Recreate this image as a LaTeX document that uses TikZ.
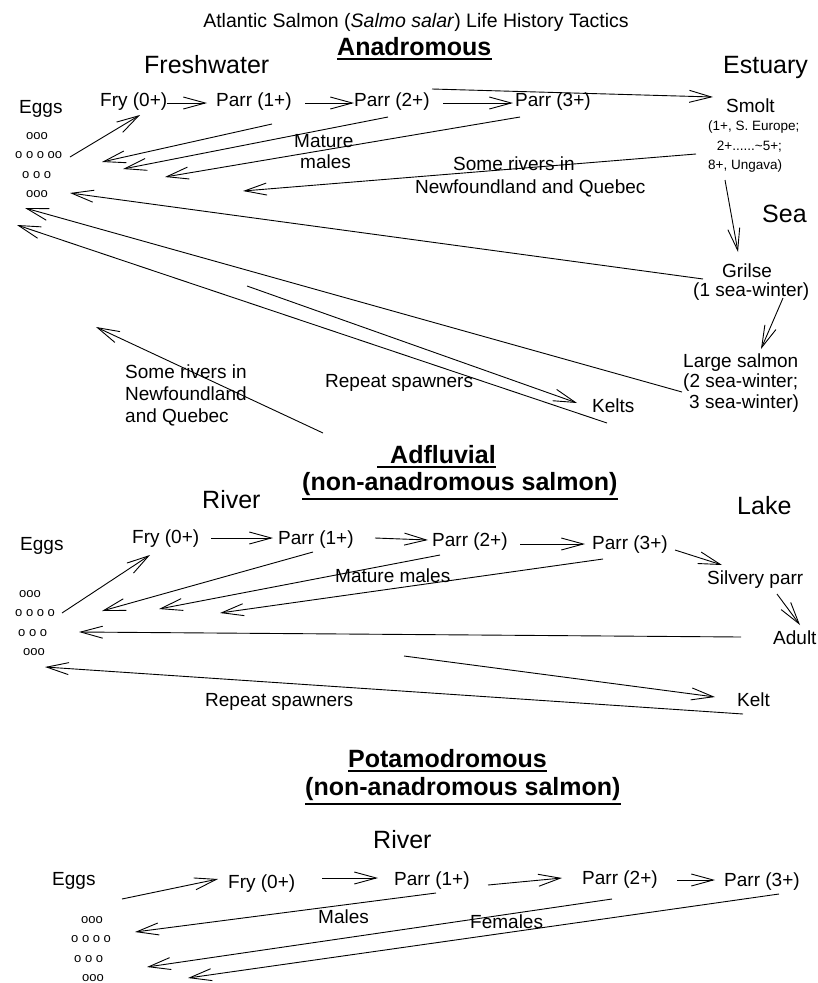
\documentclass[tikz,border=0pt]{standalone}
\usepackage{fontspec}
\setmainfont{Liberation Sans}
\usetikzlibrary{arrows.meta}

\begin{document}
\begin{tikzpicture}[x=1pt,y=-1pt,
  lbl/.style={anchor=base west,inner sep=0,font=\fontsize{19}{22}\selectfont},
  zone/.style={lbl,font=\fontsize{25}{30}\selectfont},
  hdr/.style={lbl,font=\fontsize{25}{30}\selectfont\bfseries},
  detail/.style={lbl,font=\fontsize{13.5}{16}\selectfont},
  eggdot/.style={lbl,font=\fontsize{13}{15}\selectfont},
  arr/.style={-{Straight Barb[length=22pt,width=12pt]},line width=0.9pt},
  ul/.style={line width=2.2pt}]
\useasboundingbox (0,0) rectangle (818,983);
\node[lbl,anchor=base,font=\fontsize{19.5}{23}\selectfont] (title) at (416,27) {Atlantic Salmon (\textit{Salmo salar}) Life History Tactics};

% anadromous
\node[hdr] (aHead) at (337,55) {Anadromous};
\draw[ul] ([yshift=-4pt]aHead.base west) -- ([yshift=-4pt]aHead.base east);
\node[zone] (aFresh) at (144,73) {Freshwater};
\node[zone] (aEst) at (723,73) {Estuary};
\node[zone] (aSea) at (762,222) {Sea};
\node[lbl] (aEggs) at (19,113) {Eggs};
\node[eggdot] (aOa) at (26,139) {ooo};
\node[eggdot] (aOb) at (15,158) {o o o oo};
\node[eggdot] (aOc) at (22,178) {o o o};
\node[eggdot] (aOd) at (26,197) {ooo};
\node[lbl] (aFry) at (100,106) {Fry (0+)};
\node[lbl] (aParrA) at (216,106) {Parr (1+)};
\node[lbl] (aParrB) at (354,106) {Parr (2+)};
\node[lbl] (aParrC) at (515,106) {Parr (3+)};
\node[lbl] (aSmolt) at (726,112) {Smolt};
\node[detail] (aSmA) at (708,130) {(1+, S. Europe;};
\node[detail] (aSmB) at (713,150) {\ 2+......\textasciitilde5+;};
\node[detail] (aSmC) at (708,169) {8+, Ungava)};
\node[lbl] (aMat) at (294,147) {Mature};
\node[lbl] (aMal) at (300,168) {males};
\node[lbl] (aSomeA) at (453,170) {Some rivers in};
\node[lbl] (aSomeB) at (415,193) {Newfoundland and Quebec};
\node[lbl] (aGril) at (722,277) {Grilse};
\node[lbl] (aGrilB) at (693,296) {(1 sea-winter)};
\node[lbl] (aLarge) at (683,367) {Large salmon};
\node[lbl] (aLargeB) at (683,387) {(2 sea-winter;};
\node[lbl] (aLargeC) at (689,408) {3 sea-winter)};
\node[lbl] (aKelts) at (592,412) {Kelts};
\node[lbl] (aRep) at (325,387) {Repeat spawners};
\node[lbl] (aRivA) at (125,378) {Some rivers in};
\node[lbl] (aRivB) at (125,400) {Newfoundland};
\node[lbl] (aRivC) at (125,422) {and Quebec};

\coordinate (aEggOut) at (70,157);   \coordinate (aFryIn) at (140,115);
\coordinate (aFryOut) at (167,103);  \coordinate (aPAIn) at (207,103);
\coordinate (aPAOut) at (305,103);   \coordinate (aPBIn) at (354,103);
\coordinate (aPBOut) at (443,103);   \coordinate (aPCIn) at (513,103);
\coordinate (aSmFrom) at (432,89);   \coordinate (aSmIn) at (713,97);
\coordinate (aPABack) at (272,124);  \coordinate (aPAEgg) at (102,162);
\coordinate (aPBBack) at (388,117);  \coordinate (aPBEgg) at (123,169);
\coordinate (aPCBack) at (520,117);  \coordinate (aPCEgg) at (165,177);
\coordinate (aSmBack) at (696,154);  \coordinate (aSmEgg) at (243,191);
\coordinate (aGrBack) at (703,279);  \coordinate (aGrEgg) at (70,193);
\coordinate (aLgBack) at (682,392);  \coordinate (aLgEgg) at (25,208);
\coordinate (aKeBack) at (607,423);  \coordinate (aKeEgg) at (17,225);
\coordinate (aKeFrom) at (247,286);  \coordinate (aKeIn) at (577,403);
\coordinate (aSmOut) at (725,180);   \coordinate (aGrIn) at (738,252);
\coordinate (aGrOut) at (783,298);   \coordinate (aLgIn) at (761,349);
\coordinate (aRivFrom) at (323,433); \coordinate (aRivTo) at (96,327);

\draw[arr] (aEggOut) -- (aFryIn);
\draw[arr] (aFryOut) -- (aPAIn);
\draw[arr] (aPAOut) -- (aPBIn);
\draw[arr] (aPBOut) -- (aPCIn);
\draw[arr] (aSmFrom) -- (aSmIn);
\draw[arr] (aPABack) -- (aPAEgg);
\draw[arr] (aPBBack) -- (aPBEgg);
\draw[arr] (aPCBack) -- (aPCEgg);
\draw[arr] (aSmBack) -- (aSmEgg);
\draw[arr] (aGrBack) -- (aGrEgg);
\draw[arr] (aLgBack) -- (aLgEgg);
\draw[arr] (aKeBack) -- (aKeEgg);
\draw[arr] (aKeFrom) -- (aKeIn);
\draw[arr] (aSmOut) -- (aGrIn);
\draw[arr] (aGrOut) -- (aLgIn);
\draw[arr] (aRivFrom) -- (aRivTo);

% adfluvial
\node[hdr] (dHead) at (390,463) {Adfluvial};
\draw[ul] ([xshift=-13pt,yshift=-4pt]dHead.base west) -- ([yshift=-4pt]dHead.base east);
\node[hdr] (dSub) at (302,490) {(non-anadromous salmon)};
\draw[ul] ([yshift=-9pt]dSub.base west) -- ([yshift=-9pt]dSub.base east);
\node[zone] (dRiver) at (202,508) {River};
\node[zone] (dLake) at (737,514) {Lake};
\node[lbl] (dEggs) at (20,550) {Eggs};
\node[eggdot] (dOa) at (19,597) {ooo};
\node[eggdot] (dOb) at (15,616) {o o o o};
\node[eggdot] (dOc) at (18,636) {o o o};
\node[eggdot] (dOd) at (23,655) {ooo};
\node[lbl] (dFry) at (132,543) {Fry (0+)};
\node[lbl] (dParrA) at (278,544) {Parr (1+)};
\node[lbl] (dParrB) at (432,546) {Parr (2+)};
\node[lbl] (dParrC) at (592,549) {Parr (3+)};
\node[lbl] (dSilv) at (707,584) {Silvery parr};
\node[lbl] (dAdult) at (773,644) {Adult};
\node[lbl] (dMat) at (335,582) {Mature males};
\node[lbl] (dKelt) at (737,706) {Kelt};
\node[lbl] (dRep) at (205,706) {Repeat spawners};

\coordinate (dEggOut) at (62,613);   \coordinate (dFryIn) at (150,555);
\coordinate (dFryOut) at (211,538);  \coordinate (dPAIn) at (273,538);
\coordinate (dPAOut) at (375,538);   \coordinate (dPBIn) at (428,540);
\coordinate (dPBOut) at (520,544);   \coordinate (dPCIn) at (585,544);
\coordinate (dPCOut) at (675,550);   \coordinate (dSilvIn) at (722,565);
\coordinate (dSilvOut) at (777,594); \coordinate (dAdIn) at (800,625);
\coordinate (dPABack) at (313,552);  \coordinate (dPAEgg) at (102,611);
\coordinate (dPBBack) at (440,555);  \coordinate (dPBEgg) at (159,609);
\coordinate (dPCBack) at (603,559);  \coordinate (dPCEgg) at (220,613);
\coordinate (dAdBack) at (741,637);  \coordinate (dAdEgg) at (79,632);
\coordinate (dKeFrom) at (404,656);  \coordinate (dKeIn) at (715,697);
\coordinate (dKeBack) at (743,714);  \coordinate (dKeEgg) at (45,667);

\draw[arr] (dEggOut) -- (dFryIn);
\draw[arr] (dFryOut) -- (dPAIn);
\draw[arr] (dPAOut) -- (dPBIn);
\draw[arr] (dPBOut) -- (dPCIn);
\draw[arr] (dPCOut) -- (dSilvIn);
\draw[arr] (dSilvOut) -- (dAdIn);
\draw[arr] (dPABack) -- (dPAEgg);
\draw[arr] (dPBBack) -- (dPBEgg);
\draw[arr] (dPCBack) -- (dPCEgg);
\draw[arr] (dAdBack) -- (dAdEgg);
\draw[arr] (dKeFrom) -- (dKeIn);
\draw[arr] (dKeBack) -- (dKeEgg);

% potamodromous
\node[hdr] (pHead) at (348,767) {Potamodromous};
\draw[ul] ([yshift=-4pt]pHead.base west) -- ([yshift=-4pt]pHead.base east);
\node[hdr] (pSub) at (305,795) {(non-anadromous salmon)};
\draw[ul] ([yshift=-9pt]pSub.base west) -- ([yshift=-9pt]pSub.base east);
\node[zone] (pRiver) at (373,848) {River};
\node[lbl] (pEggs) at (52,885) {Eggs};
\node[eggdot] (pOa) at (81,923) {ooo};
\node[eggdot] (pOb) at (71,942) {o o o o};
\node[eggdot] (pOc) at (74,962) {o o o};
\node[eggdot] (pOd) at (82,981) {ooo};
\node[lbl] (pFry) at (228,888) {Fry (0+)};
\node[lbl] (pParrA) at (394,885) {Parr (1+)};
\node[lbl] (pParrB) at (582,884) {Parr (2+)};
\node[lbl] (pParrC) at (724,886) {Parr (3+)};
\node[lbl] (pMales) at (318,923) {Males};
\node[lbl] (pFem) at (470,928) {Females};

\coordinate (pEggOut) at (122,899);  \coordinate (pFryIn) at (218,879);
\coordinate (pFryOut) at (322,878);  \coordinate (pPAIn) at (378,878);
\coordinate (pPAOut) at (488,885);   \coordinate (pPBIn) at (562,878);
\coordinate (pPBOut) at (677,880);   \coordinate (pPCIn) at (715,880);
\coordinate (pPABack) at (436,893);  \coordinate (pPAEgg) at (135,932);
\coordinate (pPBBack) at (612,899);  \coordinate (pPBEgg) at (147,967);
\coordinate (pPCBack) at (779,894);  \coordinate (pPCEgg) at (188,978);

\draw[arr] (pEggOut) -- (pFryIn);
\draw[arr] (pFryOut) -- (pPAIn);
\draw[arr] (pPAOut) -- (pPBIn);
\draw[arr] (pPBOut) -- (pPCIn);
\draw[arr] (pPABack) -- (pPAEgg);
\draw[arr] (pPBBack) -- (pPBEgg);
\draw[arr] (pPCBack) -- (pPCEgg);
\end{tikzpicture}
\end{document}
